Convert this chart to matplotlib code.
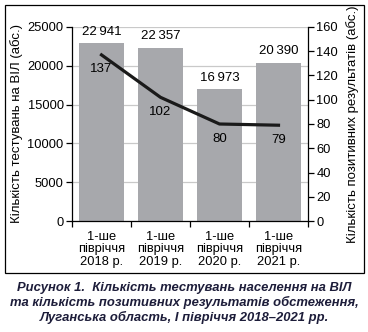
import matplotlib
matplotlib.use("Agg")
import matplotlib.pyplot as plt
from matplotlib.patches import Rectangle

periods = ["1-ше\nпівріччя\n2018 р.", "1-ше\nпівріччя\n2019 р.",
           "1-ше\nпівріччя\n2020 р.", "1-ше\nпівріччя\n2021 р."]
tests = [22941, 22357, 16973, 20390]
positive = [137, 102, 80, 79]

left_label = "Кількість тестувань на ВІЛ (абс.)"
right_label = "Кількість позитивних результатів (абс.)"
caption = ("Рисунок 1.  Кількість тестувань населення на ВІЛ\n"
           "та кількість позитивних результатів обстеження,\n"
           "Луганська область, І півріччя 2018–2021 рр.")

plt.rcParams['font.family'] = ['Liberation Sans', 'DejaVu Sans']
plt.rcParams['font.size'] = 9

W, H = 368, 332
fig = plt.figure(figsize=(W / 100, H / 100), dpi=100)

# frame around the chart
fig.patches.append(Rectangle((5 / W, 1 - 273 / H), 359 / W, 268 / H,
                             transform=fig.transFigure, fill=False,
                             edgecolor='black', linewidth=0.9))

ax = fig.add_axes([72 / W, 1 - 221 / H, 236 / W, 194 / H])
x = range(len(tests))
ax.bar(x, tests, width=0.75, color='#a7a8ac', zorder=2)
ax.set_xlim(-0.5, 3.5)
ax.set_ylim(0, 25000)
ax.set_yticks(range(0, 25001, 5000))
ax.yaxis.grid(True, color='#c9c9c9', linewidth=0.9, zorder=0)
ax.set_axisbelow(True)
for s in ['top', 'right']:
    ax.spines[s].set_visible(False)
ax.spines['left'].set_linewidth(0.9)
ax.spines['bottom'].set_linewidth(0.9)
ax.tick_params(axis='y', length=4, width=0.9, pad=2, labelsize=9.3)

ax.set_xticks([-0.5, 0.5, 1.5, 2.5, 3.5])
ax.set_xticklabels([])
ax.tick_params(axis='x', which='major', length=4, width=0.9, direction='out')
ax.set_xticks(list(x), minor=True)
ax.set_xticklabels(periods, minor=True, linespacing=1.05)
ax.tick_params(axis='x', which='minor', length=0, pad=7, labelsize=9.3)

for i, v in enumerate(tests):
    ax.text(i, v + 700, f"{v:,}".replace(",", "\u2009"),
            ha='center', va='bottom', fontsize=9.5)

ax.set_ylabel(left_label, fontsize=9.5, labelpad=3)

ax2 = ax.twinx()
ax2.plot(list(x), positive, color='#1a1a1a', linewidth=2.3, zorder=3)
ax2.set_ylim(0, 160)
ax2.set_yticks(range(0, 161, 20))
for s in ['top', 'left', 'bottom']:
    ax2.spines[s].set_visible(False)
ax2.spines['right'].set_linewidth(0.9)
ax2.tick_params(axis='y', length=4, width=0.9, pad=2, labelsize=9.3)
ax2.set_ylabel(right_label, fontsize=9.5, rotation=90, labelpad=6)

for i, v in enumerate(positive):
    ax2.annotate(str(v), (i, v), xytext=(0, -10.5), textcoords='offset points',
                 ha='center', va='center', fontsize=9.5)

fig.text(0.5, 1 - 303 / H, caption, ha='center', va='center',
         fontsize=9.4, fontweight='bold', fontstyle='italic',
         color='#1d1d3a', linespacing=1.15)

fig.savefig("out.png", dpi=100)
